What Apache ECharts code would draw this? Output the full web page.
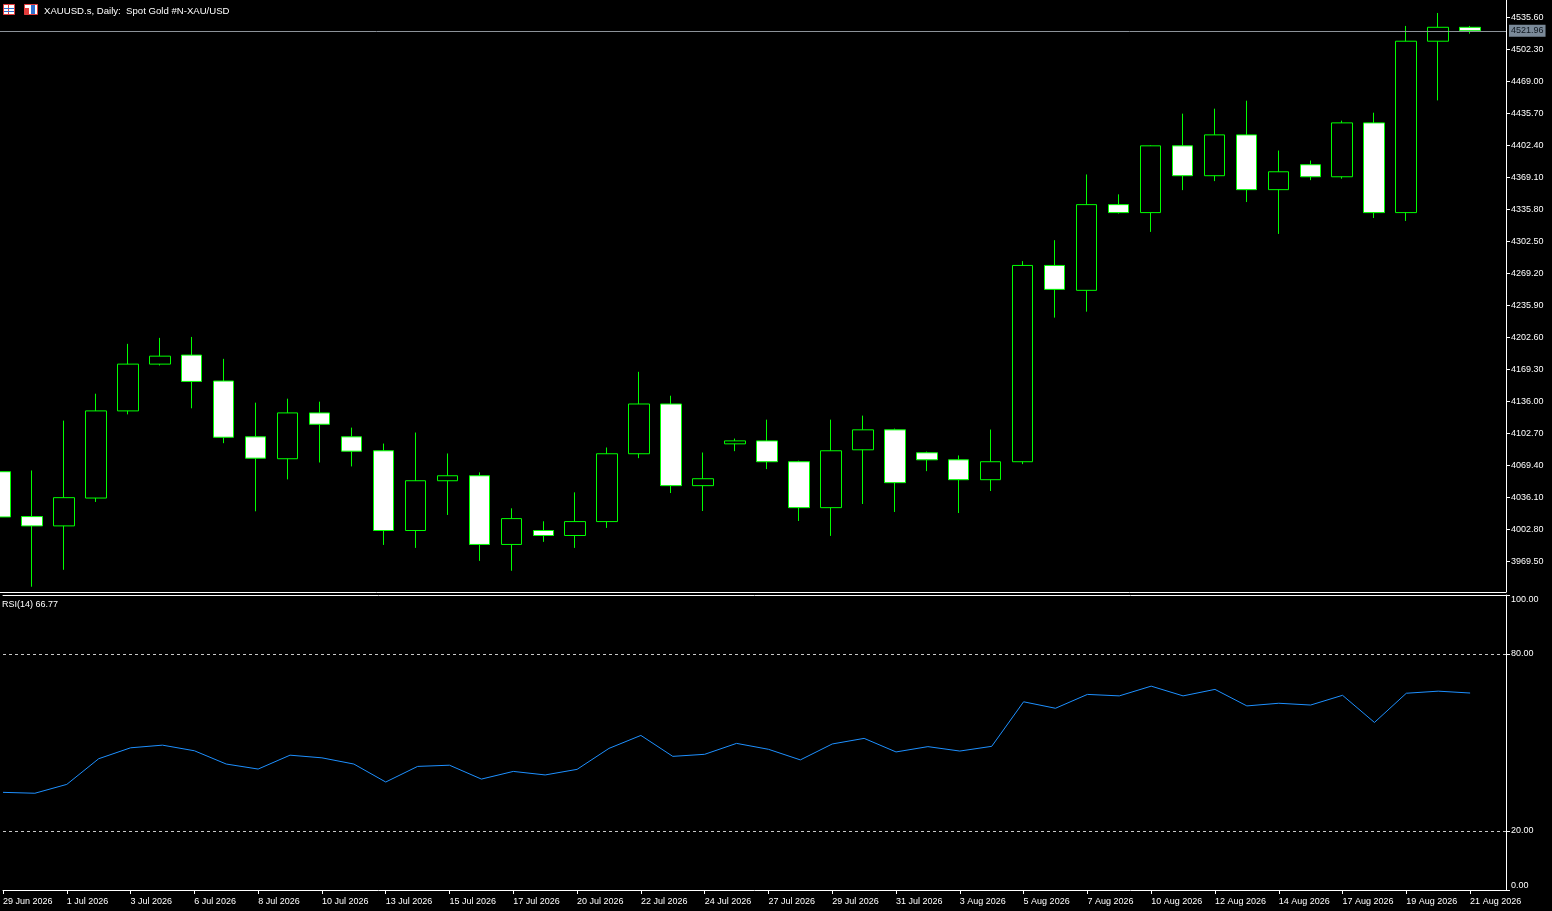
<!DOCTYPE html>
<html>
<head>
<meta charset="utf-8">
<title>XAUUSD.s, Daily</title>
<script src="https://cdn.jsdelivr.net/npm/echarts@6.0.0/dist/echarts.min.js"></script>
<style>
    html, body { margin: 0; padding: 0; background: #000; }
    #chart { width: 1552px; height: 911px; }
</style>
</head>
<body>
<div id="chart"></div>
<script>
// 日线日期（含周日短线）
const dates = [
    '29 Jun 2026', '30 Jun 2026', '1 Jul 2026', '2 Jul 2026', '3 Jul 2026', '5 Jul 2026',
    '6 Jul 2026', '7 Jul 2026', '8 Jul 2026', '9 Jul 2026', '10 Jul 2026', '12 Jul 2026',
    '13 Jul 2026', '14 Jul 2026', '15 Jul 2026', '16 Jul 2026', '17 Jul 2026', '19 Jul 2026',
    '20 Jul 2026', '21 Jul 2026', '22 Jul 2026', '23 Jul 2026', '24 Jul 2026', '26 Jul 2026',
    '27 Jul 2026', '28 Jul 2026', '29 Jul 2026', '30 Jul 2026', '31 Jul 2026', '2 Aug 2026',
    '3 Aug 2026', '4 Aug 2026', '5 Aug 2026', '6 Aug 2026', '7 Aug 2026', '9 Aug 2026',
    '10 Aug 2026', '11 Aug 2026', '12 Aug 2026', '13 Aug 2026', '14 Aug 2026', '16 Aug 2026',
    '17 Aug 2026', '18 Aug 2026', '19 Aug 2026', '20 Aug 2026', '21 Aug 2026'
];

const opens = [
    4063.0, 4016.3, 4006.6, 4035.6, 4126.3, 4175.0, 4184.4, 4157.4, 4099.3, 4076.5,
    4124.2, 4099.3, 4084.8, 4001.8, 4053.6, 4058.8, 3987.3, 4001.8, 3996.6, 4011.1,
    4081.7, 4133.5, 4048.5, 4092.0, 4095.1, 4073.4, 4025.6, 4085.8, 4106.6, 4082.7,
    4075.4, 4054.7, 4073.4, 4277.7, 4251.8, 4341.0, 4332.7, 4402.2, 4371.1, 4413.6,
    4356.6, 4382.5, 4370.0, 4426.1, 4332.7, 4511.1, 4525.6
];
const closes = [
    4015.9, 4006.6, 4036.0, 4126.3, 4175.0, 4183.3, 4157.0, 4098.9, 4077.1, 4124.2,
    4112.4, 4084.4, 4001.8, 4053.6, 4058.8, 3987.3, 4014.2, 3996.6, 4011.1, 4081.7,
    4133.5, 4048.5, 4055.7, 4095.1, 4073.4, 4025.6, 4084.8, 4106.6, 4051.6, 4075.4,
    4054.7, 4073.4, 4277.7, 4252.8, 4341.0, 4332.7, 4402.2, 4371.1, 4413.6, 4356.6,
    4375.2, 4370.0, 4426.1, 4332.7, 4511.1, 4525.6, 4521.96
];
const lows = [
    4012.0, 3943.3, 3960.9, 4031.5, 4122.7, 4173.6, 4129.0, 4092.7, 4021.8, 4055.0,
    4072.6, 4068.5, 3986.8, 3983.7, 4018.0, 3970.2, 3959.9, 3990.0, 3983.7, 4004.5,
    4077.1, 4040.8, 4022.1, 4084.4, 4065.7, 4011.7, 3996.2, 4029.4, 4021.1, 4063.6,
    4020.0, 4042.9, 4070.9, 4223.4, 4229.6, 4331.7, 4312.6, 4356.1, 4365.5, 4343.7,
    4310.5, 4366.5, 4368.0, 4327.1, 4324.0, 4449.5, 4519.0
];
const highs = [
    4068.0, 4064.3, 4116.2, 4144.2, 4196.1, 4202.3, 4203.3, 4180.5, 4134.9, 4139.0,
    4135.9, 4108.9, 4092.3, 4103.8, 4082.0, 4062.3, 4024.9, 4011.4, 4041.5, 4088.2,
    4167.0, 4142.1, 4083.0, 4097.5, 4117.2, 4074.5, 4117.2, 4121.4, 4107.9, 4084.0,
    4079.9, 4106.9, 4282.2, 4304.0, 4372.4, 4351.7, 4402.8, 4435.7, 4440.9, 4449.2,
    4397.3, 4386.9, 4428.4, 4436.7, 4527.0, 4540.5, 4527.0
];

// RSI(14)
const rsi = [
    33.1, 32.8, 35.8, 44.5, 48.2, 49.1, 47.2, 42.7, 41.0, 45.7,
    44.8, 42.7, 36.6, 41.9, 42.3, 37.6, 40.2, 39.0, 40.9, 48.0,
    52.4, 45.3, 46.0, 49.7, 47.7, 44.1, 49.5, 51.4, 46.8, 48.6,
    47.1, 48.7, 63.8, 61.6, 66.3, 65.8, 69.1, 65.8, 68.0, 62.4,
    63.3, 62.7, 66.0, 56.8, 66.7, 67.4, 66.77
];

// 刻度
const priceTicks = [
    3969.5, 4002.8, 4036.1, 4069.4, 4102.7, 4136.0, 4169.3, 4202.6, 4235.9,
    4269.2, 4302.5, 4335.8, 4369.1, 4402.4, 4435.7, 4469.0, 4502.3, 4535.6
];
const rsiTicks = [0, 20, 80, 100];
const rsiLevels = [80, 20];
const dateTickIdx = [0, 2, 4, 6, 8, 10, 12, 14, 16, 18, 20, 22, 24, 26, 28, 30, 32, 34, 36, 38, 40, 42, 44, 46];
const lastPrice = 4521.96;

const FONT = 'Liberation Sans';
const xMax = 47.125;

let candles = dates.map(function (d, i) {
    return [i, opens[i], closes[i], lows[i], highs[i]];
});
let rsiLine = rsi.map(function (v, i) {
    return [i, v];
});

function xAxisBase(gridIndex, position) {
    return {
        gridIndex: gridIndex,
        type: 'value',
        min: 0,
        max: xMax,
        position: position,
        axisLine: { show: true, onZero: false, lineStyle: { color: '#ffffff', width: 1 } },
        axisTick: { show: false },
        axisLabel: { show: false },
        splitLine: { show: false }
    };
}

let bottomAxis = xAxisBase(1, 'bottom');
bottomAxis.axisTick = {
    show: true, inside: false, length: 4,
    customValues: dateTickIdx,
    lineStyle: { color: '#ffffff' }
};
bottomAxis.axisLabel = {
    show: true,
    customValues: dateTickIdx,
    formatter: function (v) { return dates[Math.round(v)]; },
    align: 'left',
    margin: 7,
    color: '#ffffff',
    fontSize: 9,
    fontFamily: FONT
};

let option = {
    backgroundColor: '#000000',
    animation: false,
    textStyle: { fontFamily: FONT },
    grid: [
        { left: -2, right: 46, top: -2, bottom: 319 },
        { left: -2, right: 46, top: 595, bottom: 21 }
    ],
    xAxis: [
        xAxisBase(0, 'bottom'),
        bottomAxis,
        xAxisBase(1, 'top')
    ],
    yAxis: [
        {
            gridIndex: 0,
            type: 'value',
            position: 'right',
            min: 3937.8,
            max: 4554.0,
            axisLine: { show: true, onZero: false, lineStyle: { color: '#ffffff' } },
            axisTick: { show: true, length: 4, customValues: priceTicks, lineStyle: { color: '#ffffff' } },
            axisLabel: {
                customValues: priceTicks,
                formatter: function (v) { return v.toFixed(2); },
                margin: 5,
                color: '#ffffff',
                fontSize: 9,
                fontFamily: FONT
            },
            splitLine: { show: false }
        },
        {
            gridIndex: 1,
            type: 'value',
            position: 'right',
            min: 0,
            max: 100,
            axisLine: { show: true, onZero: false, lineStyle: { color: '#ffffff' } },
            axisTick: { show: true, length: 4, customValues: rsiTicks, lineStyle: { color: '#ffffff' } },
            axisLabel: {
                customValues: rsiTicks,
                formatter: function (v) {
                    if (v === 100) return '{a|100.00}';
                    if (v === 0) return '{b|0.00}';
                    return v.toFixed(2);
                },
                rich: {
                    a: { padding: [9, 0, 0, 0], color: '#ffffff', fontSize: 9, fontFamily: FONT },
                    b: { padding: [0, 0, 8, 0], color: '#ffffff', fontSize: 9, fontFamily: FONT }
                },
                margin: 5,
                color: '#ffffff',
                fontSize: 9,
                fontFamily: FONT
            },
            splitLine: { show: false }
        }
    ],
    series: [
        {
            type: 'candlestick',
            name: 'XAUUSD.s',
            xAxisIndex: 0,
            yAxisIndex: 0,
            encode: { x: 0, y: [1, 2, 3, 4] },
            data: candles,
            barWidth: 21,
            clip: false,
            itemStyle: {
                color: '#000000',
                color0: '#ffffff',
                borderColor: '#00ff00',
                borderColor0: '#00ff00',
                borderColorDoji: '#00ff00',
                borderWidth: 1
            },
            markLine: {
                silent: true,
                symbol: ['none', 'none'],
                animation: false,
                data: [{ yAxis: lastPrice }],
                lineStyle: { color: '#8c9299', width: 1, type: 'solid' },
                label: {
                    show: true,
                    position: 'end',
                    distance: 3,
                    formatter: lastPrice.toFixed(2),
                    backgroundColor: '#7b8a99',
                    color: '#101820',
                    padding: [2, 2, 1, 2],
                    fontSize: 9,
                    fontFamily: FONT
                },
                emphasis: { disabled: true }
            }
        },
        {
            type: 'line',
            name: 'RSI(14)',
            xAxisIndex: 1,
            yAxisIndex: 1,
            data: rsiLine,
            showSymbol: false,
            symbol: 'none',
            lineStyle: { color: '#1e90ff', width: 1 },
            markLine: {
                silent: true,
                symbol: ['none', 'none'],
                animation: false,
                data: rsiLevels.map(function (v) { return { yAxis: v }; }),
                lineStyle: { color: '#c8c8c8', width: 1, type: [3, 3] },
                label: { show: false },
                emphasis: { disabled: true }
            }
        }
    ],
    graphic: [
        // 左上角的两个小图标
        { type: 'rect', shape: { x: 3.5, y: 4.5, width: 11, height: 10 }, style: { fill: '#ffffff', stroke: '#e23c3c', lineWidth: 1 } },
        { type: 'line', shape: { x1: 8.5, y1: 5, x2: 8.5, y2: 14 }, style: { stroke: '#e23c3c', lineWidth: 1 } },
        { type: 'line', shape: { x1: 4, y1: 8.5, x2: 14, y2: 8.5 }, style: { stroke: '#2f6fd0', lineWidth: 1 } },
        { type: 'line', shape: { x1: 4, y1: 11.5, x2: 14, y2: 11.5 }, style: { stroke: '#2f6fd0', lineWidth: 1 } },
        { type: 'rect', shape: { x: 24.5, y: 4.5, width: 13, height: 10 }, style: { fill: '#ffffff', stroke: '#e23c3c', lineWidth: 1 } },
        { type: 'rect', shape: { x: 25, y: 8, width: 4, height: 6 }, style: { fill: '#e23c3c' } },
        { type: 'rect', shape: { x: 31, y: 5, width: 4, height: 9 }, style: { fill: '#2f6fd0' } },
        {
            type: 'text', left: 44, top: 6,
            style: { text: 'XAUUSD.s, Daily:  Spot Gold #N-XAU/USD', fill: '#ffffff', fontSize: 9.6, fontFamily: FONT }
        },
        {
            type: 'text', left: 2, top: 600,
            style: { text: 'RSI(14) ' + rsi[rsi.length - 1].toFixed(2), fill: '#ffffff', fontSize: 9, fontFamily: FONT }
        }
    ]
};

// 基于准备好的dom，初始化echarts实例
var chart = echarts.init(document.getElementById('chart'));
chart.setOption(option);

window.addEventListener('resize', function () {
    chart.resize();
});
</script>
</body>
</html>
